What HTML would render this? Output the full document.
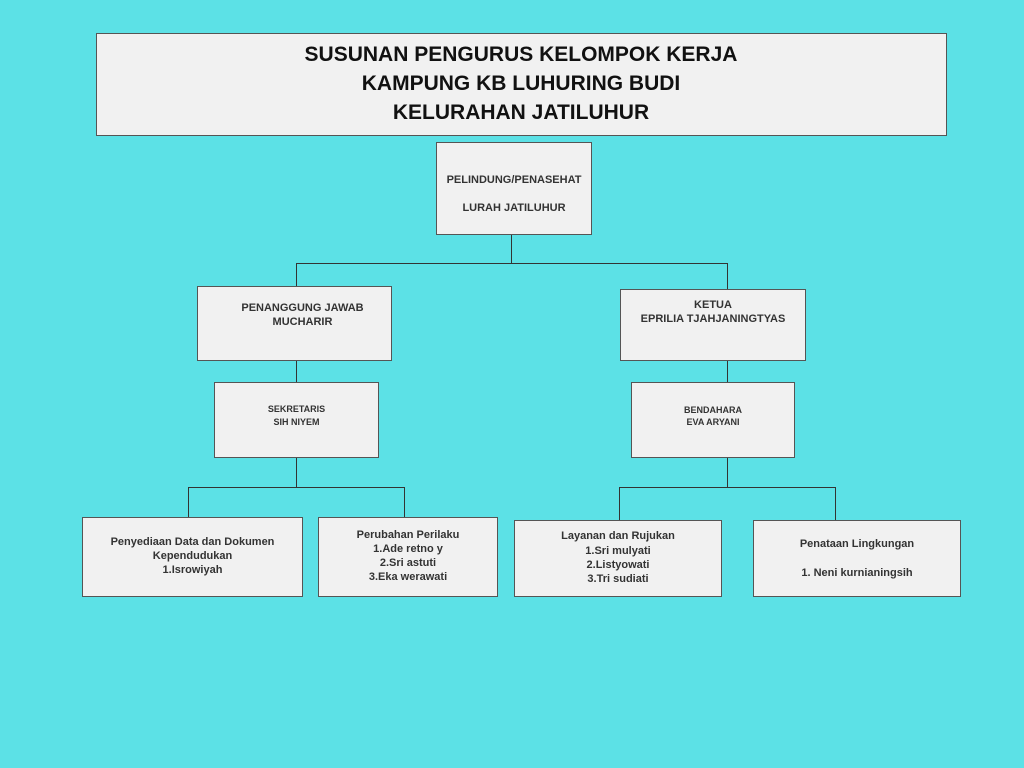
<!DOCTYPE html>
<html><head><meta charset="utf-8"><style>
body{margin:0;width:1024px;height:768px;background:#5ce1e6;position:relative;overflow:hidden;font-family:"Liberation Sans",sans-serif;}
.b{position:absolute;background:#f1f1f1;border:1px solid #555;box-sizing:border-box;}
.l{position:absolute;background:#333;}
.t{position:absolute;text-align:center;font-weight:bold;color:#333;white-space:nowrap;line-height:14px;height:14px;}
.h{position:absolute;text-align:center;font-weight:bold;color:#111;font-size:21px;line-height:28px;white-space:nowrap;left:96px;width:850px;}
</style></head><body>
<div class="b" style="left:96px;top:33px;width:851px;height:103px"></div>
<div class="h" style="top:41px">SUSUNAN PENGURUS KELOMPOK KERJA</div>
<div class="h" style="top:70px">KAMPUNG KB LUHURING BUDI</div>
<div class="h" style="top:99px">KELURAHAN JATILUHUR</div>

<div class="l" style="left:511px;top:234px;width:1px;height:30px"></div>
<div class="l" style="left:296px;top:263px;width:432px;height:1px"></div>
<div class="l" style="left:296px;top:263px;width:1px;height:24px"></div>
<div class="l" style="left:727px;top:263px;width:1px;height:27px"></div>
<div class="l" style="left:296px;top:360px;width:1px;height:23px"></div>
<div class="l" style="left:727px;top:360px;width:1px;height:23px"></div>
<div class="l" style="left:296px;top:457px;width:1px;height:30px"></div>
<div class="l" style="left:188px;top:487px;width:217px;height:1px"></div>
<div class="l" style="left:188px;top:487px;width:1px;height:31px"></div>
<div class="l" style="left:404px;top:487px;width:1px;height:31px"></div>
<div class="l" style="left:727px;top:457px;width:1px;height:30px"></div>
<div class="l" style="left:619px;top:487px;width:217px;height:1px"></div>
<div class="l" style="left:619px;top:487px;width:1px;height:34px"></div>
<div class="l" style="left:835px;top:487px;width:1px;height:34px"></div>

<div class="b" style="left:436px;top:142px;width:156px;height:93px"></div>
<div class="t" style="left:436px;width:156px;top:173px;font-size:11px">PELINDUNG/PENASEHAT</div>
<div class="t" style="left:436px;width:156px;top:201px;font-size:11px">LURAH JATILUHUR</div>

<div class="b" style="left:197px;top:286px;width:195px;height:75px"></div>
<div class="t" style="left:205px;width:195px;top:301px;font-size:11px">PENANGGUNG JAWAB</div>
<div class="t" style="left:205px;width:195px;top:315px;font-size:11px">MUCHARIR</div>

<div class="b" style="left:620px;top:289px;width:186px;height:72px"></div>
<div class="t" style="left:620px;width:186px;top:298px;font-size:11px">KETUA</div>
<div class="t" style="left:620px;width:186px;top:312px;font-size:11px">EPRILIA TJAHJANINGTYAS</div>

<div class="b" style="left:214px;top:382px;width:165px;height:76px"></div>
<div class="t" style="left:214px;width:165px;top:402px;font-size:9px">SEKRETARIS</div>
<div class="t" style="left:214px;width:165px;top:415px;font-size:9px">SIH NIYEM</div>

<div class="b" style="left:631px;top:382px;width:164px;height:76px"></div>
<div class="t" style="left:631px;width:164px;top:403px;font-size:9px">BENDAHARA</div>
<div class="t" style="left:631px;width:164px;top:415px;font-size:9px">EVA ARYANI</div>

<div class="b" style="left:82px;top:517px;width:221px;height:80px"></div>
<div class="t" style="left:82px;width:221px;top:535px;font-size:11px">Penyediaan Data dan Dokumen</div>
<div class="t" style="left:82px;width:221px;top:549px;font-size:11px">Kependudukan</div>
<div class="t" style="left:82px;width:221px;top:563px;font-size:11px">1.Isrowiyah</div>

<div class="b" style="left:318px;top:517px;width:180px;height:80px"></div>
<div class="t" style="left:318px;width:180px;top:528px;font-size:11px">Perubahan Perilaku</div>
<div class="t" style="left:318px;width:180px;top:542px;font-size:11px">1.Ade retno y</div>
<div class="t" style="left:318px;width:180px;top:556px;font-size:11px">2.Sri astuti</div>
<div class="t" style="left:318px;width:180px;top:570px;font-size:11px">3.Eka werawati</div>

<div class="b" style="left:514px;top:520px;width:208px;height:77px"></div>
<div class="t" style="left:514px;width:208px;top:529px;font-size:11px">Layanan dan Rujukan</div>
<div class="t" style="left:514px;width:208px;top:544px;font-size:11px">1.Sri mulyati</div>
<div class="t" style="left:514px;width:208px;top:558px;font-size:11px">2.Listyowati</div>
<div class="t" style="left:514px;width:208px;top:572px;font-size:11px">3.Tri sudiati</div>

<div class="b" style="left:753px;top:520px;width:208px;height:77px"></div>
<div class="t" style="left:753px;width:208px;top:537px;font-size:11px">Penataan Lingkungan</div>
<div class="t" style="left:753px;width:208px;top:566px;font-size:11px">1. Neni kurnianingsih</div>
</body></html>
